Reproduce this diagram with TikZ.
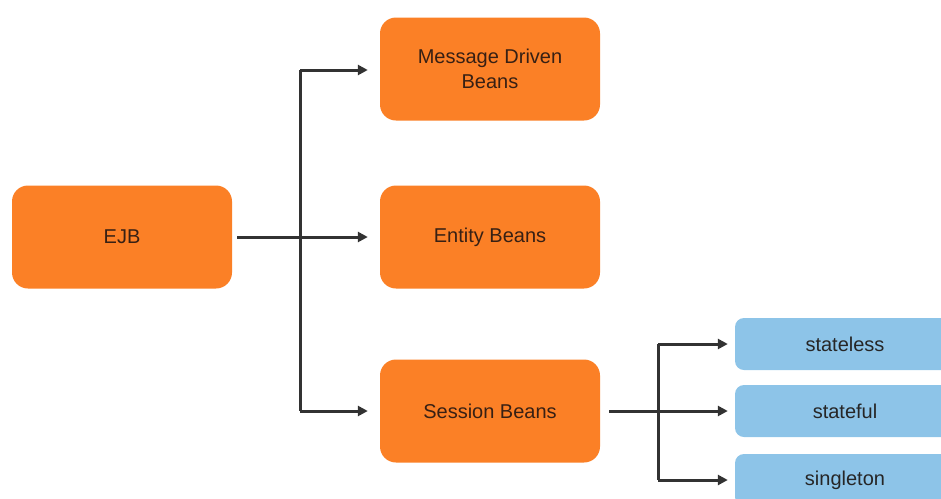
\documentclass[tikz,border=0pt]{standalone}
\usepackage{fontspec}
\setmainfont{Liberation Sans}
\usetikzlibrary{arrows.meta}

\definecolor{beanorange}{RGB}{251,128,38}
\definecolor{typeblue}{RGB}{141,196,232}
\definecolor{beantext}{RGB}{55,32,20}
\definecolor{linegray}{RGB}{50,50,50}

\begin{document}
\begin{tikzpicture}[x=1pt,y=-1pt]
\tikzset{
	bean/.style={rectangle, rounded corners=16pt, fill=beanorange, minimum width=220pt, minimum height=103pt, align=center, text=beantext, font=\fontsize{20}{25}\selectfont},
	kind/.style={rectangle, rounded corners=9pt, fill=typeblue, minimum width=220pt, minimum height=52pt, text=black!85, font=\fontsize{20}{24}\selectfont},
	link/.style={draw=linegray, line width=3pt},
	arr/.style={link, -{Triangle[length=10pt,width=10pt]}}
}
\useasboundingbox (0,0) rectangle (941,498);

% EJB
\node[bean] (ejb) at (122,237) {EJB};

% bean kinds
\node[bean] (mdb)     at (490,69)  {Message Driven\\Beans};
\node[bean] (entity)  at (490,237) {Entity Beans};
\node[bean] (session) at (490,411) {Session Beans};

% session bean kinds
\node[kind] (stateless) at (845,344) {stateless};
\node[kind] (stateful)  at (845,411) {stateful};
\node[kind] (singleton) at (845,480) {singleton};

% ejb --> beans
\coordinate (top1) at (300,70);
\coordinate (bot1) at (300,411);
\draw[link] (top1) -- (bot1);
\draw[arr, shorten <=5pt, shorten >=12pt] (ejb) -- (entity);
\draw[arr, shorten >=12pt] (top1) -- (mdb.west |- top1);
\draw[arr, shorten >=12pt] (bot1) -- (session);

% session --> kinds
\coordinate (top2) at (658,344);
\coordinate (bot2) at (658,480);
\draw[link] (top2) -- (bot2);
\draw[arr, shorten <=9pt, shorten >=7pt] (session) -- (stateful);
\draw[arr, shorten >=7pt] (top2) -- (stateless);
\draw[arr, shorten >=7pt] (bot2) -- (singleton);

\end{tikzpicture}
\end{document}
